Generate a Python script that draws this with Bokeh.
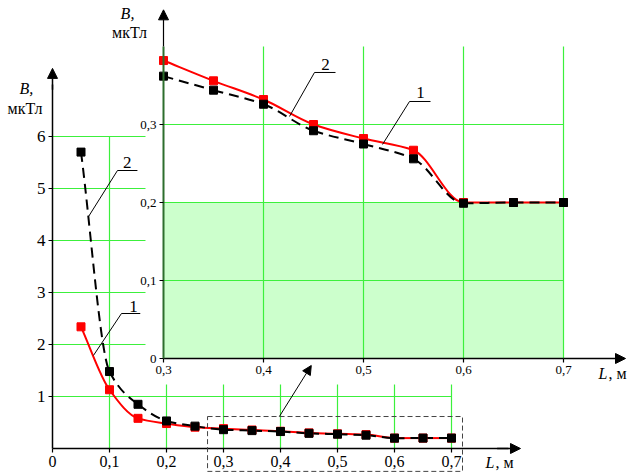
import numpy as np
from bokeh.plotting import figure
from bokeh.models import (Range1d, FixedTicker, CustomJSTickFormatter, Label, Arrow,
                          NormalHead, BoxAnnotation, LinearAxis)
from bokeh.embed import file_html
from bokeh.resources import INLINE
from bokeh.core.properties import value

# ---------------- data ----------------
L_values = [0.05, 0.10, 0.15, 0.20, 0.25, 0.30, 0.35, 0.40, 0.45, 0.50, 0.55, 0.60, 0.65, 0.70]
B_curve1 = [2.34, 1.13, 0.58, 0.48, 0.41, 0.382, 0.356, 0.332, 0.300, 0.282, 0.267, 0.200, 0.200, 0.200]
B_curve2 = [5.70, 1.48, 0.85, 0.53, 0.43, 0.362, 0.344, 0.326, 0.292, 0.275, 0.256, 0.199, 0.200, 0.200]

main_x_ticks = [0.0, 0.1, 0.2, 0.3, 0.4, 0.5, 0.6, 0.7]
main_x_labels = ["0", "0,1", "0,2", "0,3", "0,4", "0,5", "0,6", "0,7"]
main_y_ticks = [1, 2, 3, 4, 5, 6]
main_y_labels = ["1", "2", "3", "4", "5", "6"]

inset_x_ticks = [0.3, 0.4, 0.5, 0.6, 0.7]
inset_x_labels = ["0,3", "0,4", "0,5", "0,6", "0,7"]
inset_y_ticks = [0.0, 0.1, 0.2, 0.3]
inset_y_labels = ["0", "0,1", "0,2", "0,3"]
inset_grid_y = [0.1, 0.2, 0.3]
inset_grid_top = 0.4
inset_fill_top = 0.2

# ---------------- layout constants ----------------
W, H = 629, 476
OX, OY = 52, 448          # main origin (px from top-left)
PX, PY = 570.0, 52.0      # main: pixels per unit
IOX, IOY = 163, 358       # inset origin (px)
IX, IY = 1000.0, 780.0    # inset: pixels per unit

FONT = "'Liberation Serif', 'Times New Roman', serif"
GREEN = "#3cf03c"
FILL = "#ccffcc"

p = figure(width=W, height=H, output_backend="svg", toolbar_location=None,
           x_range=Range1d(-OX / PX, (W - OX) / PX),
           y_range=Range1d(-(H - OY) / PY, OY / PY),
           min_border_left=0, min_border_right=0, min_border_top=0, min_border_bottom=0)
p.extra_x_ranges = {"ix": Range1d(0.3 - IOX / IX, 0.3 + (W - IOX) / IX)}
p.extra_y_ranges = {"iy": Range1d(-(H - IOY) / IY, IOY / IY)}
p.xgrid.visible = False
p.ygrid.visible = False
p.outline_line_color = None
p.background_fill_color = "white"
p.border_fill_color = "white"


def label_formatter(tks, lbs):
    return CustomJSTickFormatter(args=dict(tk=tks, lb=lbs), code="""
        const i = tk.findIndex(t => Math.abs(t - tick) < 1e-9);
        return i >= 0 ? lb[i] : '';
    """)


def style_axis(ax, fs, lw=1.5, color="black"):
    ax.axis_line_width = lw
    ax.axis_line_color = color
    ax.major_tick_in = 0
    ax.major_tick_out = 4
    ax.major_tick_line_color = "black"
    ax.major_tick_line_width = 1.2
    ax.minor_tick_line_color = None
    ax.major_label_text_font = FONT
    ax.major_label_text_font_size = fs
    ax.major_label_text_color = "black"
    ax.major_label_standoff = 3


# main axes (fixed at the origin)
xa = p.xaxis[0]
xa.fixed_location = 0
xa.ticker = FixedTicker(ticks=main_x_ticks)
xa.formatter = label_formatter(main_x_ticks, main_x_labels)
xa.bounds = (0, 0.80)
style_axis(xa, "16px")
ya = p.yaxis[0]
ya.fixed_location = 0
ya.ticker = FixedTicker(ticks=main_y_ticks)
ya.formatter = label_formatter(main_y_ticks, main_y_labels)
ya.bounds = (0, 7.0)
style_axis(ya, "17px")

p.add_layout(Arrow(end=NormalHead(size=10, fill_color="black", line_color="black"),
                   x_start=0, y_start=6.9, x_end=0, y_end=7.31, line_width=1.5))
p.add_layout(Arrow(end=NormalHead(size=10, fill_color="black", line_color="black"),
                   x_start=0.78, y_start=0, x_end=0.821, y_end=0, line_width=1.5))

# main grid (partial lines)
gx = main_x_ticks[1:]
p.segment(x0=gx, y0=[0] * len(gx), x1=gx, y1=[main_y_ticks[-1]] * len(gx),
          line_color=GREEN, line_width=1.2)
p.segment(x0=[0] * len(main_y_ticks), y0=main_y_ticks, x1=[main_x_ticks[-1]] * len(main_y_ticks),
          y1=main_y_ticks, line_color=GREEN, line_width=1.2)


def bezier_pieces(x, y):
    x = np.asarray(x, float)
    y = np.asarray(y, float)
    h = np.diff(x)
    d = np.diff(y) / h
    m = np.zeros_like(y)
    m[0], m[-1] = d[0], d[-1]
    for k in range(1, len(y) - 1):
        if d[k - 1] * d[k] <= 0:
            m[k] = 0.0
        else:
            w1 = 2 * h[k] + h[k - 1]
            w2 = h[k] + 2 * h[k - 1]
            m[k] = (w1 + w2) / (w1 / d[k - 1] + w2 / d[k])
    return dict(x0=x[:-1], y0=y[:-1], x1=x[1:], y1=y[1:],
                cx0=x[:-1] + h / 3, cy0=y[:-1] + m[:-1] * h / 3,
                cx1=x[1:] - h / 3, cy1=y[1:] - m[1:] * h / 3)


def draw_curves(xv, y1v, y2v, **rng):
    p.bezier(**bezier_pieces(xv, y1v), line_color="red", line_width=2, **rng)
    p.bezier(**bezier_pieces(xv, y2v), line_color="black", line_width=2, line_dash="10 6", **rng)
    p.scatter(xv, y1v, marker="square", size=8, fill_color="red", line_color="red", **rng)
    p.scatter(xv, y2v, marker="square", size=8, fill_color="black", line_color="black", **rng)


# main curves
draw_curves(L_values, B_curve1, B_curve2)

# main callouts
p.segment(x0=[0.114, 0.114], y0=[5.346, 5.346], x1=[0.149, 0.0632], y1=[5.346, 4.46],
          line_color="black", line_width=1)
p.segment(x0=[0.121, 0.121], y0=[2.596, 2.596], x1=[0.154, 0.0719], y1=[2.596, 1.79],
          line_color="black", line_width=1)
p.text(x=[0.131, 0.142], y=[5.50, 2.74], text=["2", "1"], text_font=value(FONT),
       text_font_size="17px", text_align="center", text_baseline="middle", text_color="black")

# ---------------- inset ----------------
IR = dict(x_range_name="ix", y_range_name="iy")
p.quad(left=0.282, right=1.0, bottom=-0.0333, top=1.0, fill_color="white", line_color=None, **IR)
p.quad(left=inset_x_ticks[0], right=inset_x_ticks[-1], bottom=0, top=inset_fill_top,
       fill_color=FILL, line_color=None, **IR)
igx = inset_x_ticks[1:]
p.segment(x0=igx, y0=[0] * len(igx), x1=igx, y1=[inset_grid_top] * len(igx),
          line_color=GREEN, line_width=1.2, **IR)
p.segment(x0=[inset_x_ticks[0]] * len(inset_grid_y), y0=inset_grid_y,
          x1=[inset_x_ticks[-1]] * len(inset_grid_y), y1=inset_grid_y,
          line_color=GREEN, line_width=1.2, **IR)

iya = LinearAxis(fixed_location=inset_x_ticks[0], ticker=FixedTicker(ticks=inset_y_ticks),
                 formatter=label_formatter(inset_y_ticks, inset_y_labels),
                 bounds=(0, inset_grid_top), **IR)
style_axis(iya, "13px", lw=2, color="#2d6e2d")
p.add_layout(iya, "left")
ixa = LinearAxis(fixed_location=0, ticker=FixedTicker(ticks=inset_x_ticks),
                 formatter=label_formatter(inset_x_ticks, inset_x_labels),
                 bounds=(inset_x_ticks[0], inset_x_ticks[-1]), **IR)
style_axis(ixa, "13px")
p.add_layout(ixa, "below")

p.add_layout(Arrow(end=NormalHead(size=10, fill_color="black", line_color="black"),
                   x_start=inset_x_ticks[0], y_start=inset_grid_top, x_end=inset_x_ticks[0], y_end=0.447,
                   line_width=1.2, line_color="black", **IR))
p.add_layout(Arrow(end=NormalHead(size=10, fill_color="black", line_color="black"),
                   x_start=inset_x_ticks[-1], y_start=0, x_end=0.762, y_end=0,
                   line_width=1.5, line_color="black", **IR))

# inset curves
mask = [i for i, l in enumerate(L_values) if l >= inset_x_ticks[0] - 1e-9]
draw_curves([L_values[i] for i in mask], [B_curve1[i] for i in mask], [B_curve2[i] for i in mask], **IR)

# inset callouts
p.segment(x0=[0.451, 0.451], y0=[0.3667, 0.3667], x1=[0.472, 0.426], y1=[0.3667, 0.3103],
          line_color="black", line_width=1, **IR)
p.segment(x0=[0.546, 0.546], y0=[0.3295, 0.3295], x1=[0.567, 0.519], y1=[0.3295, 0.2744],
          line_color="black", line_width=1, **IR)
p.text(x=[0.462, 0.557], y=[0.377, 0.341], text=["2", "1"], text_font=value(FONT),
       text_font_size="17px", text_align="center", text_baseline="middle", text_color="black", **IR)

# axis titles
for txt, x, y, style, kw in [
    ("B,", -0.046, 6.93, "italic", {}),
    ("мкТл", -0.0482, 6.54, "normal", {}),
    ("L", 0.7596, -0.269, "italic", {}),
    (", м", 0.7772, -0.269, "normal", {}),
    ("B,", 0.264, 0.4423, "italic", IR),
    ("мкТл", 0.266, 0.418, "normal", IR),
    ("L", 0.735, -0.0195, "italic", IR),
    (", м", 0.745, -0.0195, "normal", IR),
]:
    align = "left" if txt in ("L", ", м") else "center"
    p.add_layout(Label(x=x, y=y, text=txt, text_font=FONT, text_font_size="16px",
                       text_font_style=style, text_align=align, text_baseline="middle",
                       text_color="black", **kw))

# dashed zoom box and arrow to inset
p.add_layout(BoxAnnotation(left=0.272, right=0.7193, bottom=-0.44, top=0.615,
                           fill_alpha=0, fill_color=None, line_color="#444444",
                           line_dash="5 3", line_width=1, line_alpha=1))
p.add_layout(Arrow(end=NormalHead(size=9, fill_color="black", line_color="black"),
                   x_start=0.398, y_start=0.615, x_end=0.454, y_end=1.596,
                   line_width=1, line_color="black"))

open("out.html", "w").write(file_html(p, INLINE))
